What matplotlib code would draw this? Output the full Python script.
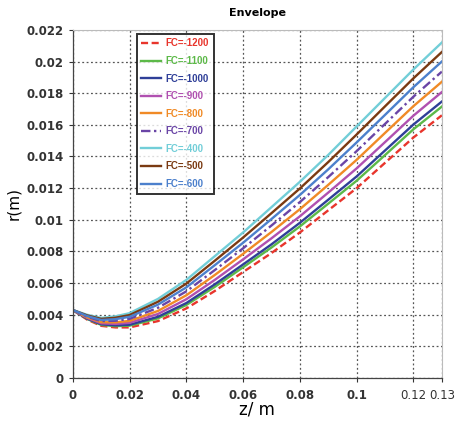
import matplotlib
matplotlib.use("Agg")
import matplotlib.pyplot as plt

# envelope radius r(m) vs z(m)
z = [0, 0.005, 0.01, 0.015, 0.02, 0.03, 0.04, 0.05, 0.06, 0.07, 0.08, 0.09, 0.10, 0.11, 0.12, 0.13]

fc_1200 = [0.0043, 0.0037, 0.0033, 0.0032, 0.0032, 0.0036, 0.0044, 0.0055, 0.0067, 0.0079, 0.0092, 0.0106, 0.0120, 0.0136, 0.0152, 0.0166]
fc_1100 = [0.0043, 0.00374, 0.00336, 0.00328, 0.00331, 0.00377, 0.00462, 0.00576, 0.0070, 0.00825, 0.00958, 0.01102, 0.01247, 0.01409, 0.01572, 0.01715]
fc_1000 = [0.0043, 0.00376, 0.0034, 0.00333, 0.00337, 0.00387, 0.00474, 0.00592, 0.00718, 0.00845, 0.00981, 0.01127, 0.01274, 0.01438, 0.01602, 0.01747]
fc_900 = [0.0043, 0.0038, 0.00346, 0.00342, 0.00349, 0.00405, 0.00498, 0.0062, 0.0075, 0.00883, 0.01022, 0.01172, 0.01325, 0.01491, 0.01658, 0.01807]
fc_800 = [0.0043, 0.00384, 0.00353, 0.00352, 0.00361, 0.00424, 0.00523, 0.00651, 0.00785, 0.00923, 0.01067, 0.01221, 0.01379, 0.01549, 0.01718, 0.01872]
fc_700 = [0.0043, 0.00388, 0.0036, 0.00362, 0.00374, 0.00444, 0.00548, 0.00682, 0.0082, 0.00964, 0.01112, 0.0127, 0.01434, 0.01606, 0.01778, 0.01936]
fc_400 = [0.0043, 0.0040, 0.0038, 0.0039, 0.0041, 0.0050, 0.0062, 0.0077, 0.0092, 0.0108, 0.0124, 0.0141, 0.0159, 0.0177, 0.0195, 0.0212]
fc_500 = [0.0043, 0.00396, 0.00374, 0.00381, 0.00398, 0.00482, 0.00597, 0.00741, 0.00888, 0.01042, 0.01198, 0.01365, 0.01539, 0.01717, 0.01894, 0.0206]
fc_600 = [0.0043, 0.00392, 0.00367, 0.00372, 0.00387, 0.00464, 0.00573, 0.00713, 0.00855, 0.01005, 0.01157, 0.01319, 0.01489, 0.01663, 0.01838, 0.0200]

labels = ["FC=-1200", "FC=-1100", "FC=-1000", "FC=-900", "FC=-800",
          "FC=-700", "FC=-400", "FC=-500", "FC=-600"]

x_ticks = [0, 0.02, 0.04, 0.06, 0.08, 0.1, 0.12, 0.13]
x_ticklabels = ["0", "0.02", "0.04", "0.06", "0.08", "0.1", "0.12", "0.13"]
y_ticks = [0, 0.002, 0.004, 0.006, 0.008, 0.01, 0.012, 0.014, 0.016, 0.018, 0.02, 0.022]
y_ticklabels = ["0", "0.002", "0.004", "0.006", "0.008", "0.01", "0.012",
                "0.014", "0.016", "0.018", "0.02", "0.022"]

series = [fc_1200, fc_1100, fc_1000, fc_900, fc_800, fc_700, fc_400, fc_500, fc_600]
colors = ["#E8352C", "#5CB948", "#2F3F98", "#B050B0", "#F08A26",
          "#6A45A6", "#72CED8", "#7A3A12", "#4C80CC"]
styles = [(0, (3, 1.5)), "-", "-", "-", "-", (0, (4, 1.5, 1, 1.5)), "-", "-", "-"]

fig = plt.figure(figsize=(4.55, 4.21), dpi=100)
ax = fig.add_axes([0.160, 0.102, 0.811, 0.827])

for ys, c, ls, lab in zip(series, colors, styles, labels):
    ax.plot(z, ys, color=c, linestyle=ls, linewidth=1.7, label=lab)

ax.set_xlim(0, 0.13)
ax.set_ylim(0, 0.022)
ax.set_xticks(x_ticks)
ax.set_xticklabels(x_ticklabels)
ax.set_yticks(y_ticks)
ax.set_yticklabels(y_ticklabels, fontweight="bold", fontsize=8.5)
for t, lab in zip(ax.get_xticklabels(), x_ticklabels):
    t.set_fontsize(8.5)
    t.set_fontweight("normal" if lab in ("0.12", "0.13") else "bold")

ax.tick_params(axis="both", direction="out", length=3, width=0.8, colors="#333333")
ax.tick_params(axis="x", pad=5)
ax.grid(True, linestyle=(0, (1.5, 2)), color="#555555", linewidth=0.9)
ax.set_axisbelow(True)
for side in ("top", "right"):
    ax.spines[side].set_color("#bbbbbb")
for side in ("left", "bottom"):
    ax.spines[side].set_color("#444444")
    ax.spines[side].set_linewidth(0.9)

ax.set_ylabel("r(m)", fontsize=11, labelpad=4)
ax.set_xlabel("z/ m", fontsize=12, labelpad=-1)
ax.set_title("Envelope", fontsize=8, fontweight="bold", pad=10)

leg = ax.legend(loc="upper left", bbox_to_anchor=(0.165, 0.998),
                prop={"family": "Liberation Sans", "size": 7, "weight": "bold"},
                frameon=True, fancybox=False, handlelength=2.0, labelspacing=0.78,
                borderpad=0.5, handletextpad=0.5, borderaxespad=0.3)
leg.get_frame().set_edgecolor("black")
leg.get_frame().set_linewidth(1.4)
for txt, c in zip(leg.get_texts(), colors):
    txt.set_color(c)

fig.savefig("out.png", dpi=100)
